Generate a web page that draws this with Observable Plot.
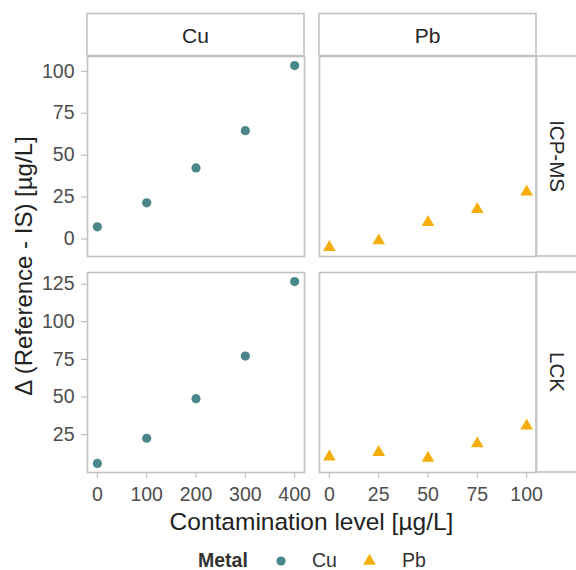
<!DOCTYPE html>
<html>
<head>
<meta charset="utf-8">
<script src="https://cdn.jsdelivr.net/npm/d3@7"></script>
<script src="https://cdn.jsdelivr.net/npm/@observablehq/plot@0.6"></script>
<style>
  html, body { margin: 0; padding: 0; background: #fff; overflow: hidden; }
  #chart { position: relative; width: 576px; height: 570px; overflow: hidden; font-family: "Liberation Sans", Arial, sans-serif; }
  #chart svg { position: absolute; overflow: visible; }
</style>
</head>
<body>
<div id="chart"></div>
<script>
// ---- data ----
const metals = ["Cu", "Pb"];
const methods = ["ICP-MS", "LCK"];
const cuLevels = [0, 100, 200, 300, 400];
const pbLevels = [0, 25, 50, 75, 100];
const cuICPMS = [7.3, 21.6, 42.4, 64.6, 103.4];
const pbICPMS = [-5.0, -1.0, 10.0, 17.7, 28.1];
const cuLCK = [5.9, 22.6, 48.9, 77.2, 126.7];
const pbLCK = [10.3, 13.2, 9.4, 19.0, 30.8];
const xTicksCu = [0, 100, 200, 300, 400];
const xTicksPb = [0, 25, 50, 75, 100];
const yTicksICPMS = [0, 25, 50, 75, 100];
const yTicksLCK = [25, 50, 75, 100, 125];
const metalColors = ["#4a868a", "#f5ae0d"];
const metalSymbols = ["circle", "triangle"];
const xTitle = "Contamination level [µg/L]";
const yTitle = "Δ (Reference - IS) [µg/L]";
const legendTitle = "Metal";

// ---- build table ----
const levels = {Cu: cuLevels, Pb: pbLevels};
const values = {"Cu|ICP-MS": cuICPMS, "Pb|ICP-MS": pbICPMS, "Cu|LCK": cuLCK, "Pb|LCK": pbLCK};
const rows = [];
for (const m of metals) for (const meth of methods) {
  values[m + "|" + meth].forEach((v, i) => rows.push({metal: m, method: meth, level: levels[m][i], delta: v}));
}
const expand = (ext) => { const d = (ext[1] - ext[0]) * 0.05; return [ext[0] - d, ext[1] + d]; };
const xDom = metals.map(m => expand(d3.extent(rows.filter(r => r.metal === m), r => r.level)));
const yDom = methods.map(me => expand(d3.extent(rows.filter(r => r.method === me), r => r.delta)));
const xTicks = [xTicksCu, xTicksPb];
const yTicks = [yTicksICPMS, yTicksLCK];

// ---- layout ----
const PW = 217, PH = 200;
const colX = [87, 319], rowY = [56, 272];
const symR = [4.6, 4.7];
const gridCol = "#c2c2c2", tickCol = "#b5b5b5", labelCol = "#4d4d4d", textCol = "#222";
const chart = document.getElementById("chart");

metals.forEach((m, ci) => methods.forEach((me, ri) => {
  const ml = 70, mr = 10, mt = 10, mb = 40;
  const data = rows.filter(r => r.metal === m && r.method === me);
  const marks = [
    Plot.frame({stroke: gridCol, strokeWidth: 1.6}),
    Plot.dot(data, {x: "level", y: "delta", fill: metalColors[ci], stroke: null,
      symbol: () => metalSymbols[ci], r: symR[ci]})
  ];
  if (ci === 0) marks.unshift(Plot.axisY({ticks: yTicks[ri], label: null, tickSize: 6, tickPadding: 7, stroke: tickCol, fill: labelCol, fontSize: 19.5}));
  if (ri === 1) marks.unshift(Plot.axisX({ticks: xTicks[ci], label: null, tickSize: 6, tickPadding: 9, stroke: tickCol, fill: labelCol, fontSize: 19.5}));
  const svg = Plot.plot({
    width: PW + ml + mr, height: PH + mt + mb,
    marginLeft: ml, marginRight: mr, marginTop: mt, marginBottom: mb,
    style: {fontFamily: "Liberation Sans, Arial, sans-serif", fontSize: "19.5px", background: "none", overflow: "visible"},
    x: {domain: xDom[ci], axis: null},
    y: {domain: yDom[ri], axis: null},
    marks
  });
  svg.style.left = (colX[ci] - ml) + "px";
  svg.style.top = (rowY[ri] - mt) + "px";
  chart.appendChild(svg);
}));

// ---- overlay: strips, titles, legend ----
const ov = d3.select(chart).append("svg").attr("width", 576).attr("height", 570)
  .style("left", "0px").style("top", "0px")
  .style("font-family", "Liberation Sans, Arial, sans-serif");
metals.forEach((m, ci) => {
  ov.append("rect").attr("x", colX[ci]).attr("y", 13.5).attr("width", PW).attr("height", 42)
    .attr("fill", "none").attr("stroke", gridCol).attr("stroke-width", 1.6);
  ov.append("text").attr("x", colX[ci] + PW / 2).attr("y", 35).attr("text-anchor", "middle")
    .attr("dominant-baseline", "central").attr("font-size", 21).attr("fill", "#262626").text(m);
});
methods.forEach((me, ri) => {
  ov.append("rect").attr("x", 536).attr("y", rowY[ri]).attr("width", 42).attr("height", PH)
    .attr("fill", "none").attr("stroke", gridCol).attr("stroke-width", 1.6);
  ov.append("text").attr("transform", `translate(557,${rowY[ri] + PH / 2}) rotate(90)`)
    .attr("text-anchor", "middle").attr("dominant-baseline", "central")
    .attr("font-size", 20.5).attr("fill", "#262626").text(me);
});
ov.append("text").attr("x", (87 + 536) / 2).attr("y", 530).attr("text-anchor", "middle")
  .attr("font-size", 24.5).attr("fill", textCol).text(xTitle);
ov.append("text").attr("transform", `translate(23,266) rotate(-90)`).attr("text-anchor", "middle")
  .attr("dominant-baseline", "central").attr("font-size", 24).attr("fill", textCol).text(yTitle);
// legend
const ly = 561;
ov.append("text").attr("x", 198).attr("y", 566.5).attr("font-size", 19.5).attr("font-weight", "bold")
  .attr("fill", "#333").text(legendTitle);
const legX = [281, 369.5], legTX = [312, 402];
metals.forEach((m, ci) => {
  const sym = ci === 0 ? d3.symbolCircle : d3.symbolTriangle;
  ov.append("path").attr("d", d3.symbol(sym, Math.PI * symR[ci] * symR[ci])())
    .attr("transform", `translate(${legX[ci]},${ly})`).attr("fill", metalColors[ci]);
  ov.append("text").attr("x", legTX[ci]).attr("y", 566.5).attr("font-size", 19.5).attr("fill", "#333").text(m);
});
</script>
</body>
</html>
